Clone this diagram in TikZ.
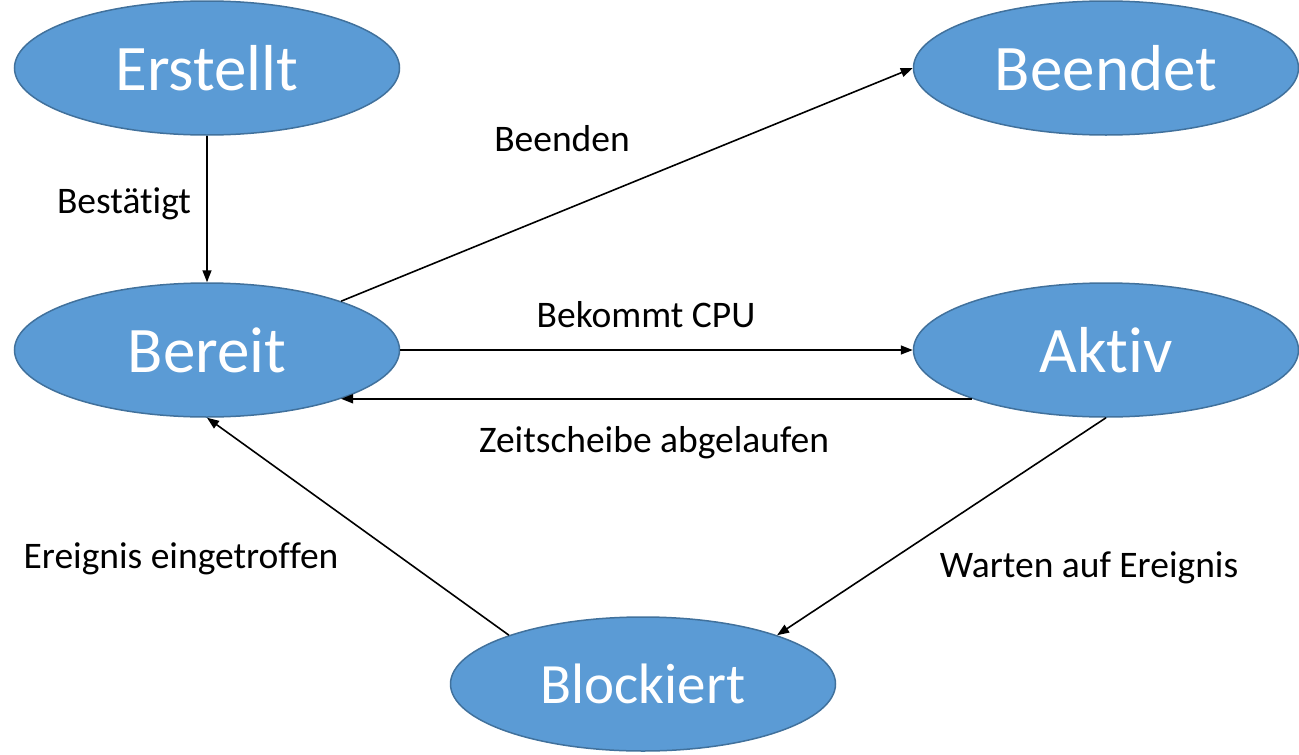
\documentclass[tikz,border=0pt]{standalone}
\usepackage{fontspec}
\setmainfont{Carlito}[RawFeature={-liga;-clig;-dlig;-calt;-rlig}]
\usetikzlibrary{shapes.geometric,arrows.meta}
\definecolor{zustandblau}{HTML}{5B9BD5}
\definecolor{zustandrand}{HTML}{41719C}
\tikzset{
  zustand/.style={ellipse,fill=zustandblau,draw=zustandrand,line width=1.5pt,
    minimum width=385pt,minimum height=134pt,inner sep=0pt,text=white,
    font=\fontsize{65}{78}\selectfont},
  uebergang/.style={line width=1.6pt,-{Triangle[length=12pt,width=9pt]}},
  beschriftung/.style={anchor=base,font=\fontsize{37.5}{45}\selectfont}
}
\begin{document}
\begin{tikzpicture}[x=1pt,y=-1pt]
        \useasboundingbox (0,0) rectangle (1299,755);
        \node[zustand] (erstellt) at (207,68){Erstellt};
        \node[zustand] (beendet) at (1106,68){Beendet};
        \node[zustand] (bereit) at (207,350){Bereit};
        \node[zustand] (aktiv) at (1106,350){Akt\kern0pt iv};
        \node[zustand,font=\fontsize{57}{68}\selectfont] (blockiert) at (643,684){Blockiert};
        \draw[uebergang](erstellt.south)--(bereit.north);
        \draw[uebergang](bereit.20)--(beendet.west);
        \draw[uebergang](bereit.east)--(aktiv.west);
        \draw[uebergang](aktiv.200)--(bereit.340);
        \draw[uebergang](aktiv.south)--(blockiert.20);
        \draw[uebergang](blockiert.160)--(bereit.south);
        \node[beschriftung] (bestaetigt) at (124,213){Bestät\kern0pt igt};
        \node[beschriftung] (beenden) at (562,151){Beenden};
        \node[beschriftung] (cpu) at (646,327){Bekommt CPU};
        \node[beschriftung] (zeitscheibe) at (654,452){Zeitscheibe abgelaufen};
        \node[beschriftung] (eingetroffen) at (181,568){Ereignis eingetroffen};
        \node[beschriftung] (warten) at (1089,577){Warten auf Ereignis};
      \end{tikzpicture}
\end{document}
